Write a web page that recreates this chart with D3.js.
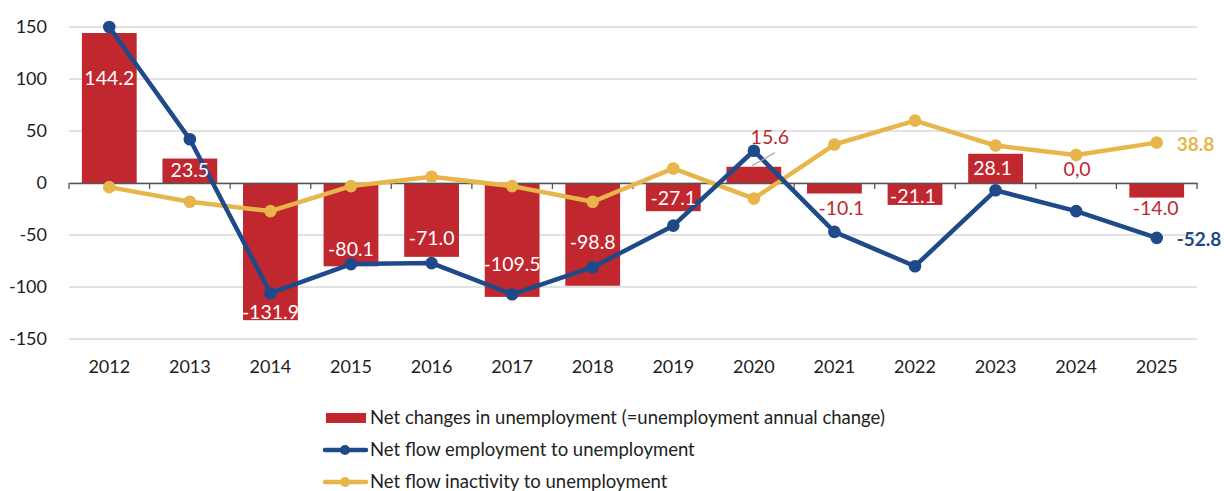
<!DOCTYPE html>
<html>
<head>
<meta charset="utf-8">
<script src="https://cdn.jsdelivr.net/npm/d3@7"></script>
<style>
  body { margin: 0; background: #fff; }
  svg { font-family: Lato, "Open Sans", sans-serif; }
</style>
</head>
<body>
<div id="chart"></div>
<script>
var years = ["2012","2013","2014","2015","2016","2017","2018","2019","2020","2021","2022","2023","2024","2025"];
var netChange = [144.2, 23.5, -131.9, -80.1, -71.0, -109.5, -98.8, -27.1, 15.6, -10.1, -21.1, 28.1, 0.0, -14.0];
var empToUnemp = [150, 42, -106, -78, -77, -107, -81, -41, 31, -47, -80, -7, -27, -52.8];
var inactToUnemp = [-4, -18, -27, -3, 6, -3, -18, 14, -15, 37, 60, 36, 27, 38.8];
var barLabels = ["144.2","23.5","-131.9","-80.1","-71.0","-109.5","-98.8","-27.1","15.6","-10.1","-21.1","28.1","0,0","-14.0"];
// where each bar label sits, in data units
var barLabelAt = [101, 12.5, -124, -64, -53, -78, -57, -15, 44, -24, -13, 14, 13, -24];
var yTicks = [150, 100, 50, 0, -50, -100, -150];
var legendNames = ["Net changes in unemployment (=unemployment annual change)",
                   "Net flow employment to unemployment",
                   "Net flow inactivity to unemployment"];

(function(){
    var W = 1224, H = 491;
    var red = "#C0272F", blue = "#1F4A8A", gold = "#E8B54A";

    var svg = d3.select("#chart").append("svg").attr("width", W).attr("height", H);

    var x = d3.scaleBand().domain(years).range([69, 1197]).paddingInner(0.32).paddingOuter(0.16);
    var xb = d3.scaleBand().domain(years).range([69, 1197]);
    var y = d3.scaleLinear().domain([-150, 150]).range([339, 27]);
    var cx = function(i){ return xb(years[i]) + xb.bandwidth() / 2; };
    var fmt = function(v){ return d3.format(".1f")(v).replace("\u2212", "-"); };

    // gridlines
    svg.append("g").selectAll("line").data(yTicks).enter().append("line")
        .attr("x1", 69).attr("x2", 1197)
        .attr("y1", function(d){ return y(d); }).attr("y2", function(d){ return y(d); })
        .attr("stroke", "#d9d9d9").attr("stroke-width", 1.5);

    // y axis labels
    svg.append("g").selectAll("text").data(yTicks).enter().append("text")
        .attr("x", 47).attr("y", function(d){ return y(d); })
        .attr("dy", "0.35em").attr("text-anchor", "end")
        .attr("font-size", 18).attr("fill", "#222")
        .text(function(d){ return d; });

    // bars
    svg.append("g").selectAll("rect").data(netChange).enter().append("rect")
        .attr("x", function(d, i){ return x(years[i]); })
        .attr("width", x.bandwidth())
        .attr("y", function(d){ return y(Math.max(0, d)); })
        .attr("height", function(d){ return Math.abs(y(d) - y(0)); })
        .attr("fill", red);

    // zero axis with ticks between categories
    var axis = d3.axisBottom(xb).tickSize(0).tickFormat("");
    var gx = svg.append("g").attr("transform", "translate(0," + y(0) + ")").call(axis);
    gx.select(".domain").attr("stroke", "#555").attr("stroke-width", 1.3);
    gx.selectAll(".tick").remove();
    var bounds = years.map(function(d){ return xb(d); }).concat([1197]);
    gx.selectAll("line.sep").data(bounds).enter().append("line").attr("class", "sep")
        .attr("x1", function(d){ return d; }).attr("x2", function(d){ return d; })
        .attr("y1", 0).attr("y2", 6).attr("stroke", "#555").attr("stroke-width", 1.3);

    // x labels
    svg.append("g").selectAll("text").data(years).enter().append("text")
        .attr("x", function(d, i){ return cx(i); }).attr("y", 367)
        .attr("dy", "0.35em").attr("text-anchor", "middle")
        .attr("font-size", 18).attr("fill", "#222")
        .text(function(d){ return d; });

    // lines
    function drawSeries(vals, color){
        var line = d3.line().x(function(d, i){ return cx(i); }).y(function(d){ return y(d); });
        svg.append("path").datum(vals).attr("d", line)
            .attr("fill", "none").attr("stroke", color).attr("stroke-width", 4.5)
            .attr("stroke-linejoin", "round");
        svg.append("g").selectAll("circle").data(vals).enter().append("circle")
            .attr("cx", function(d, i){ return cx(i); }).attr("cy", function(d){ return y(d); })
            .attr("r", 6.3).attr("fill", color);
    }
    drawSeries(inactToUnemp, gold);
    drawSeries(empToUnemp, blue);

    // leader line for 2020 label
    svg.append("line")
        .attr("x1", cx(8) - 2).attr("y1", y(netChange[8]) - 1)
        .attr("x2", cx(8) + 21).attr("y2", y(netChange[8]) - 14)
        .attr("stroke", "#a6a6a6").attr("stroke-width", 1.3);

    // bar labels: white inside, red outside
    var dxLabel = [0, 0, 0, 0, 0, 0, 0, 0, 16, 7, -2, -3, 1, -1];
    svg.append("g").selectAll("text").data(netChange).enter().append("text")
        .attr("x", function(d, i){ return cx(i) + dxLabel[i]; })
        .attr("y", function(d, i){ return y(barLabelAt[i]); })
        .attr("dy", "0.35em").attr("text-anchor", "middle")
        .attr("font-size", 19.5)
        .attr("fill", function(d, i){
            var inside = (d > 0 && barLabelAt[i] < d && barLabelAt[i] > 0) || (d < 0 && barLabelAt[i] > d && barLabelAt[i] < 0);
            return inside ? "#fff" : red;
        })
        .text(function(d, i){ return barLabels[i]; });

    // end labels
    var last = years.length - 1;
    svg.append("text").attr("x", cx(last) + 20).attr("y", y(inactToUnemp[last]) + 2)
        .attr("dy", "0.35em").attr("font-size", 19).attr("font-weight", "bold")
        .attr("fill", gold).text(fmt(inactToUnemp[last]));
    svg.append("text").attr("x", cx(last) + 20).attr("y", y(empToUnemp[last]) + 1)
        .attr("dy", "0.35em").attr("font-size", 19).attr("font-weight", "bold")
        .attr("fill", blue).text(fmt(empToUnemp[last]));

    // legend
    var lg = svg.append("g").attr("font-size", 18.5).attr("fill", "#222");
    var rows = [418, 450, 482];
    lg.append("rect").attr("x", 326).attr("y", rows[0] - 5).attr("width", 40).attr("height", 10).attr("fill", red);
    [blue, gold].forEach(function(c, k){
        var ly = rows[k + 1];
        lg.append("line").attr("x1", 325).attr("x2", 366).attr("y1", ly).attr("y2", ly)
            .attr("stroke", c).attr("stroke-width", 4.5).attr("stroke-linecap", "round");
        lg.append("circle").attr("cx", 345).attr("cy", ly).attr("r", 5).attr("fill", c);
    });
    lg.selectAll("text").data(legendNames).enter().append("text")
        .attr("x", 370).attr("y", function(d, i){ return rows[i]; })
        .attr("dy", "0.35em").text(function(d){ return d; });
})();
</script>
</body>
</html>
